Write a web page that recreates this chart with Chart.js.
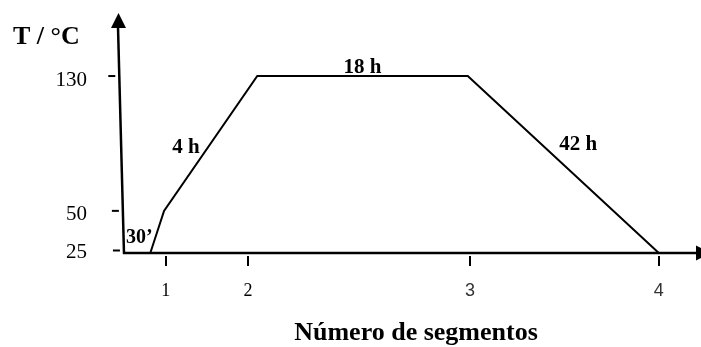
<!DOCTYPE html>
<html>
<head>
<meta charset="utf-8">
<script src="https://cdn.jsdelivr.net/npm/chart.js@4"></script>
<style>
  body { margin: 0; background: #fff; }
</style>
</head>
<body>
<canvas id="profileChart" width="701" height="347"></canvas>
<script>
// ===============================
// Data
// ===============================
const tempTicks = [25, 50, 130];
const segmentTicks = [7.3, 21.7, 60.5, 93.5];
const segmentLabels = ["1", "2", "3", "4"];
const profileX = [4.6, 7.0, 23.3, 60.1, 93.5];
const profileT = [25, 50, 130, 130, 25];
const stageLabels = ["30’", "4 h", "18 h", "42 h"];

const SERIF = '"Liberation Serif", "Times New Roman", serif';
const SANS = '"Liberation Sans", Arial, sans-serif';

/* -----------------------------------------------------
   hand-drawn style axes, arrows and labels
----------------------------------------------------- */
const sketchAxes = {
  id: "sketchAxes",
  beforeDatasetsDraw(chart) {
    const { ctx, chartArea: a, scales: { x, y } } = chart;
    ctx.save();
    ctx.strokeStyle = "#000";
    ctx.fillStyle = "#000";

    // y axis, slightly slanted like the original
    ctx.lineWidth = 2.5;
    ctx.beginPath();
    ctx.moveTo(a.left, a.bottom + 1);
    ctx.lineTo(a.left - 6, a.top + 14);
    ctx.stroke();
    ctx.beginPath();
    ctx.moveTo(a.left - 5.5, a.top);
    ctx.lineTo(a.left - 13, a.top + 15);
    ctx.lineTo(a.left + 2, a.top + 15);
    ctx.closePath();
    ctx.fill();

    // x axis
    ctx.beginPath();
    ctx.moveTo(a.left - 1, a.bottom);
    ctx.lineTo(a.right, a.bottom);
    ctx.stroke();
    ctx.beginPath();
    ctx.moveTo(a.right + 15, a.bottom);
    ctx.lineTo(a.right, a.bottom - 7.5);
    ctx.lineTo(a.right, a.bottom + 7.5);
    ctx.closePath();
    ctx.fill();

    // x tick marks
    ctx.lineWidth = 2;
    segmentTicks.forEach((v) => {
      const px = Math.round(x.getPixelForValue(v));
      ctx.beginPath();
      ctx.moveTo(px, a.bottom + 3);
      ctx.lineTo(px, a.bottom + 13);
      ctx.stroke();
    });

    // y tick marks (with a small gap from the axis)
    tempTicks.forEach((v) => {
      const py = Math.min(y.getPixelForValue(v), a.bottom - 2.5);
      const ax = a.left - 6 * (a.bottom - py) / (a.bottom - a.top - 14);
      ctx.beginPath();
      ctx.moveTo(ax - 11, py);
      ctx.lineTo(ax - 4, py);
      ctx.stroke();
    });
    ctx.restore();
  },

  afterDatasetsDraw(chart) {
    const { ctx, chartArea: a, scales: { x, y } } = chart;
    const pts = chart.getDatasetMeta(0).data;
    const mid = (i) => ({ x: (pts[i].x + pts[i + 1].x) / 2, y: (pts[i].y + pts[i + 1].y) / 2 });
    ctx.save();
    ctx.fillStyle = "#000";

    // tick labels
    ctx.font = "21px " + SERIF;
    ctx.textAlign = "right";
    ctx.textBaseline = "middle";
    tempTicks.forEach((v) => {
      const py = Math.min(y.getPixelForValue(v) + 4, a.bottom - 1);
      ctx.fillText(String(v), 87, py);
    });

    ctx.textAlign = "center";
    segmentTicks.forEach((v, i) => {
      ctx.font = "18px " + (i < 2 ? SERIF : SANS);
      ctx.fillStyle = i < 2 ? "#000" : "#333";
      ctx.fillText(segmentLabels[i], x.getPixelForValue(v), 291);
    });
    ctx.fillStyle = "#000";

    // stage durations
    ctx.font = "bold 20px " + SERIF;
    ctx.textAlign = "left";
    ctx.fillText(stageLabels[0], a.left + 2, pts[0].y - 15);

    ctx.font = "bold 21px " + SERIF;
    const m1 = mid(1);
    ctx.textAlign = "right";
    ctx.fillText(stageLabels[1], m1.x - 11, m1.y + 4);

    const m2 = mid(2);
    ctx.textAlign = "center";
    ctx.textBaseline = "alphabetic";
    ctx.fillText(stageLabels[2], m2.x, m2.y - 3);

    const m3 = mid(3);
    ctx.textAlign = "left";
    ctx.textBaseline = "middle";
    ctx.fillText(stageLabels[3], m3.x - 4, m3.y - 20);

    // axis titles
    ctx.font = "bold 26px " + SERIF;
    ctx.textBaseline = "alphabetic";
    ctx.textAlign = "left";
    ctx.fillText("T / °C", 13, 44);
    ctx.textAlign = "center";
    ctx.fillText("Número de segmentos", 416, 340);
    ctx.restore();
  }
};

new Chart(document.getElementById("profileChart"), {
  type: "scatter",
  data: {
    datasets: [{
      data: profileX.map((v, i) => ({ x: v, y: profileT[i] })),
      showLine: true,
      borderColor: "#000",
      borderWidth: 2,
      pointRadius: 0,
      tension: 0,
      clip: false
    }]
  },
  options: {
    responsive: false,
    animation: false,
    layout: { padding: { left: 124, right: 5, top: 13, bottom: 94 } },
    plugins: { legend: { display: false }, tooltip: { enabled: false } },
    scales: {
      x: { type: "linear", min: 0, max: 100, display: false },
      y: { type: "linear", min: 25, max: 167.4, display: false }
    }
  },
  plugins: [sketchAxes]
});
</script>
</body>
</html>
